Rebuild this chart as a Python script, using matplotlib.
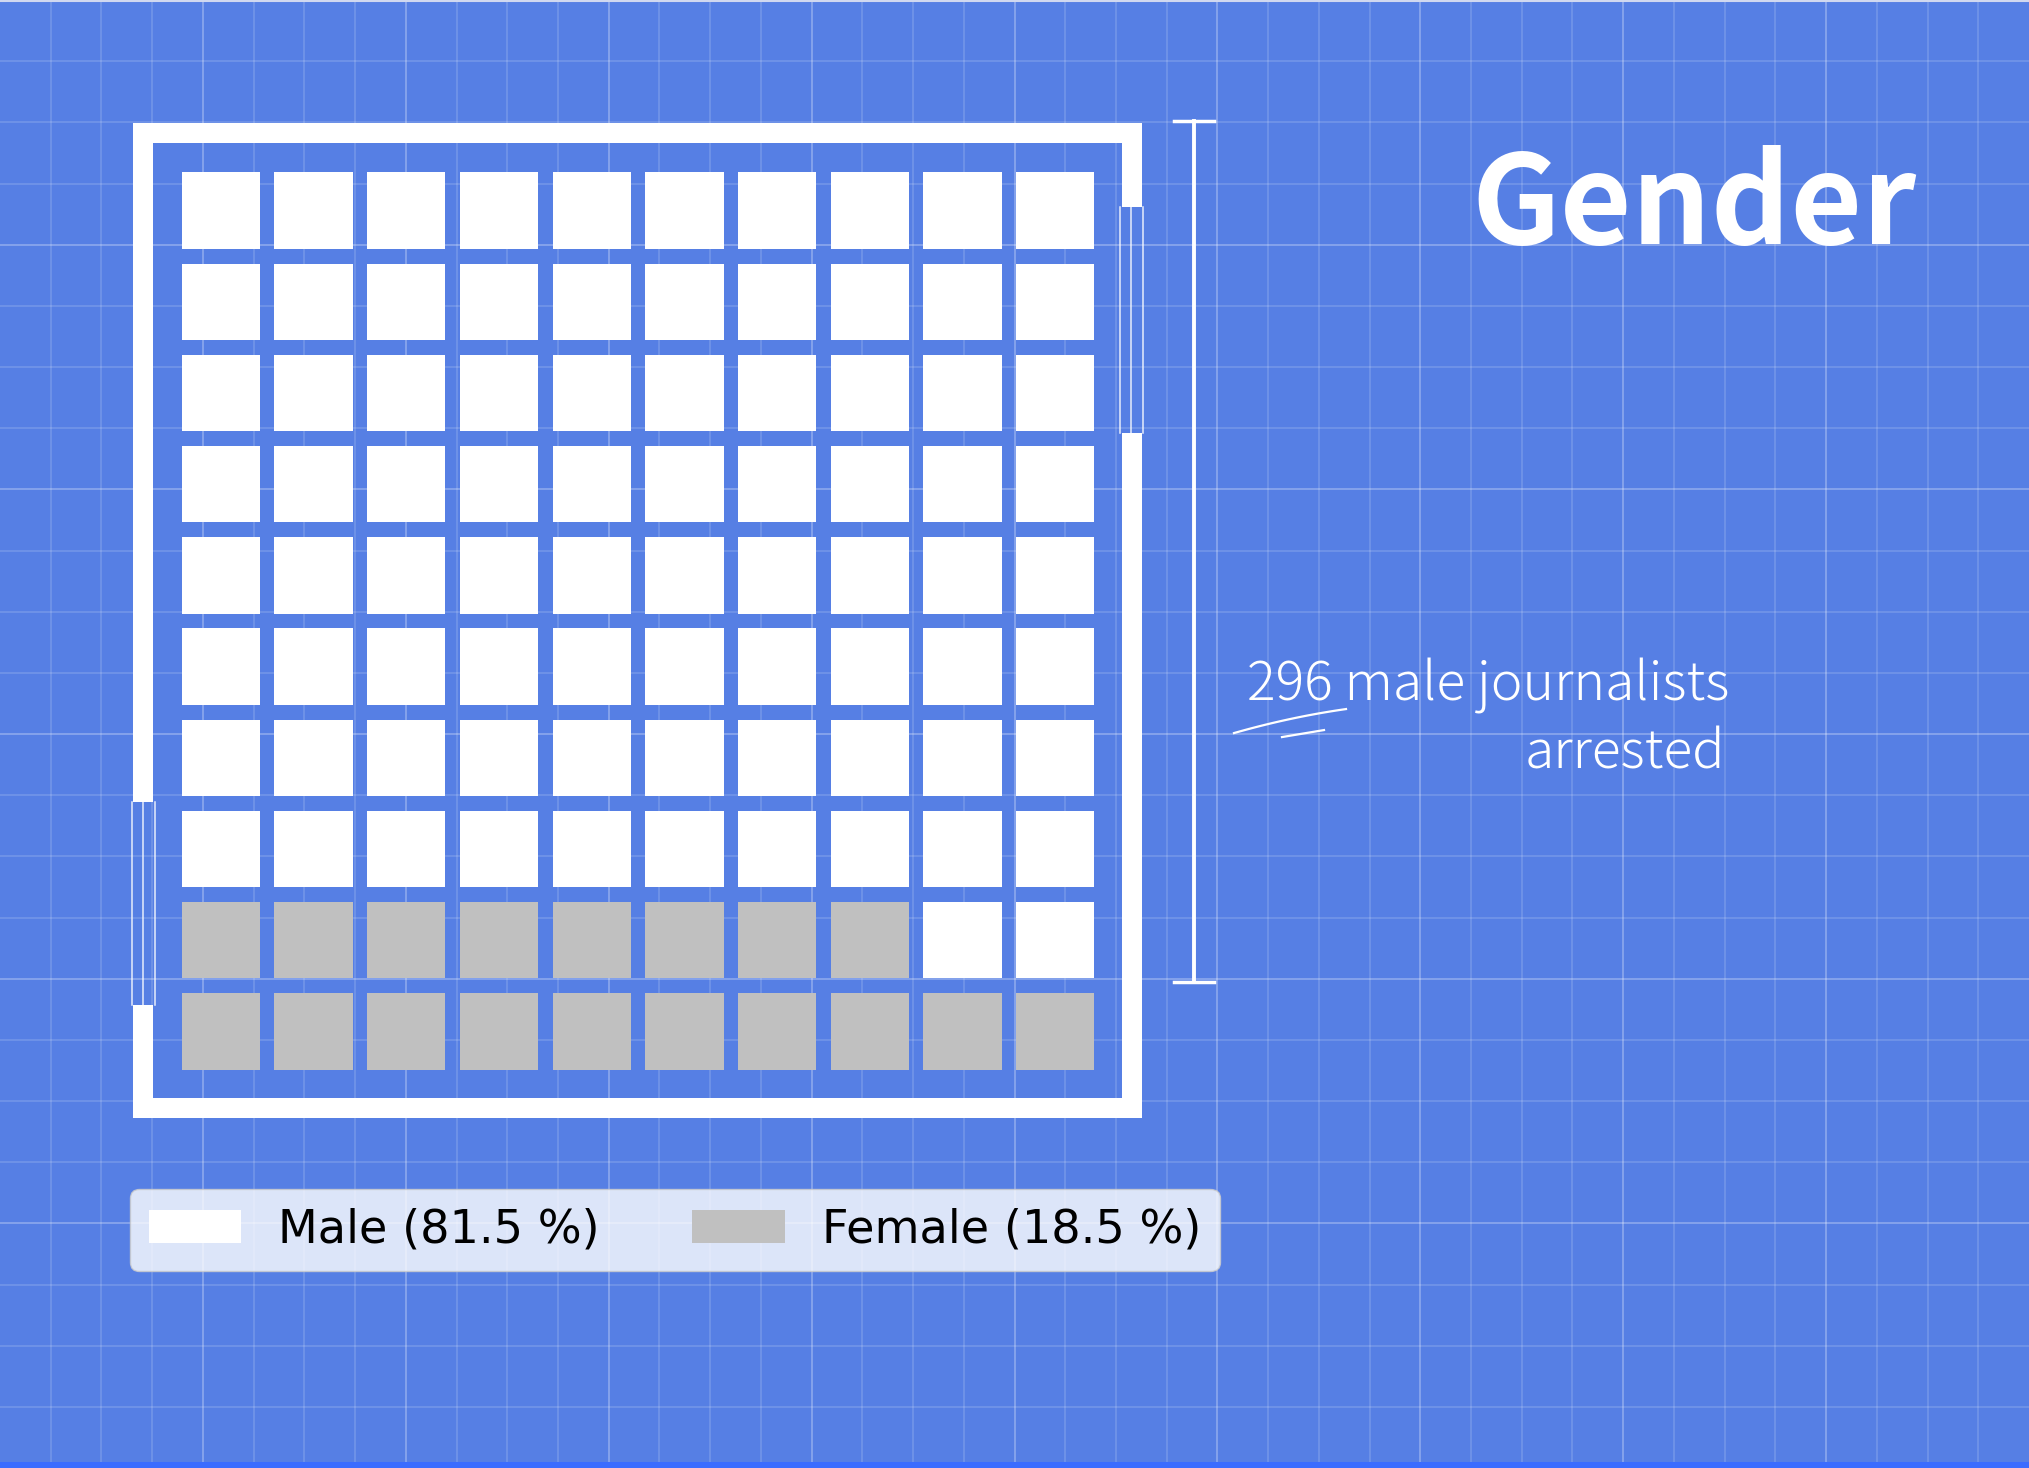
import matplotlib.pyplot as plt
from matplotlib.patches import Rectangle
import numpy as np

# data
categories = ['Male', 'Female']
percent = [81.5, 18.5]
colors = ['#FFFFFF', '#C0C0C0']
male_count = 296
n_rows = 10
n_cols = 10

W, H = 2029, 1468
bg = '#567FE4'

fig = plt.figure(figsize=(W / 100, H / 100), dpi=100, facecolor='#3A6CFF')
ax = fig.add_axes([0, 0.004, 1, 0.996])
ax.set_xlim(0, W)
ax.set_ylim(H - 6, 0)
ax.set_facecolor(bg)
ax.axis('off')
ax.add_patch(Rectangle((0, 0), W, H, color=bg, zorder=0))

# blueprint grid
for i in range(1, 40):
    x = i * W / 40
    a = 0.32 if i % 4 == 0 else 0.17
    ax.plot([x, x], [0, H], color='white', alpha=a, lw=1.2, zorder=1)
for j in range(1, 24):
    y = j * H / 24
    a = 0.32 if j % 4 == 0 else 0.17
    ax.plot([0, W], [y, y], color='white', alpha=a, lw=1.2, zorder=1)
ax.plot([0, W], [1, 1], color='#d0d8f0', lw=1.5, zorder=1)

# waffle cells, filled from bottom-left, female first
counts = [round(p * n_rows * n_cols / 100) for p in percent]
order = [1] * counts[1] + [0] * counts[0]
x0, y0 = 181.7, 172.3
px, py = 92.7, 91.2
cw, ch = 78.3, 76.5
for k, c in enumerate(order):
    r = n_rows - 1 - k // n_cols
    col = k % n_cols
    ax.add_patch(Rectangle((x0 + col * px, y0 + r * py), cw, ch,
                           facecolor=colors[c], edgecolor='none', zorder=3))

# room frame with window openings
t = 20
L, T, R, B = 133, 123, 1142, 1118
wall = dict(facecolor='white', edgecolor='none', zorder=3)
ax.add_patch(Rectangle((L, T), R - L, t, **wall))
ax.add_patch(Rectangle((L, B - t), R - L, t, **wall))
ax.add_patch(Rectangle((L, T), t, 802 - T, **wall))
ax.add_patch(Rectangle((L, 1005), t, B - 1005, **wall))
ax.add_patch(Rectangle((R - t, T), t, 207 - T, **wall))
ax.add_patch(Rectangle((R - t, 433), t, B - 433, **wall))
for xx in [L - 1, L + 10, L + 22]:
    ax.plot([xx, xx], [802, 1005], color='white', lw=1.1, alpha=0.85, zorder=3)
for xx in [R - 22, R - 11, R + 1]:
    ax.plot([xx, xx], [207, 433], color='white', lw=1.1, alpha=0.85, zorder=3)

# dimension line
ax.plot([1194, 1194], [121, 982], color='white', lw=2.8, zorder=3)
ax.plot([1174, 1214], [121, 121], color='white', lw=2.5, zorder=3)
ax.plot([1174, 1214], [982, 982], color='white', lw=2.5, zorder=3)

# annotation
ax.text(1729, 700, f'{male_count} male journalists', color='white', fontsize=38.5,
        family=['Noto Sans CJK JP', 'DejaVu Sans'], weight='light',
        ha='right', va='baseline', zorder=4)
ax.text(1725, 768, 'arrested', color='white', fontsize=38.5,
        family=['Noto Sans CJK JP', 'DejaVu Sans'], weight='light',
        ha='right', va='baseline', zorder=4)
sx = np.array([1234, 1290, 1346])
sy = np.array([733, 719, 709])
xs = np.linspace(1234, 1346, 30)
ax.plot(xs, np.polyval(np.polyfit(sx, sy, 2), xs), color='white', lw=1.6, zorder=4)
ax.plot([1282, 1324], [737, 730], color='white', lw=1.6, zorder=4)

# title
ax.text(1917, 244, 'Gender', color='white', fontsize=89,
        family=['Noto Sans CJK JP', 'DejaVu Sans'], weight='bold',
        ha='right', va='baseline', zorder=4)

# legend
handles = [Rectangle((0, 0), 1, 1, facecolor=colors[i], edgecolor='none')
           for i in range(2)]
labels = [f'{categories[i]} ({percent[i]} %)' for i in range(2)]
fig.legend(handles, labels, ncol=2, fontsize=33.3, loc='lower left',
           bbox_to_anchor=(130 / W, 1 - 1271 / H), borderaxespad=0,
           framealpha=0.8)

fig.savefig('out.png', dpi=100, facecolor=fig.get_facecolor())
